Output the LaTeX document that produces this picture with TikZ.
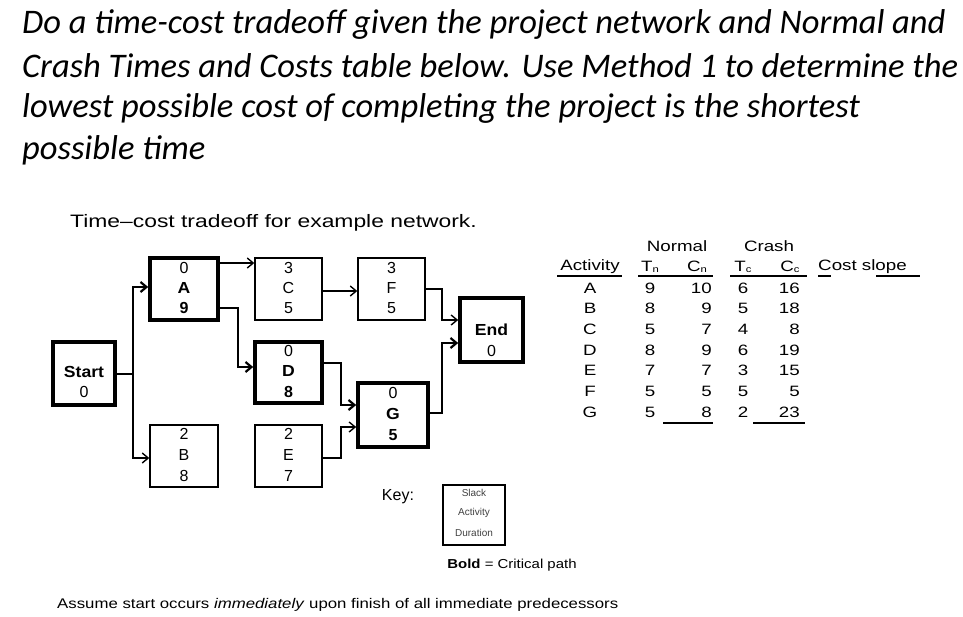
\documentclass[tikz,border=0pt]{standalone}
\usepackage{fontspec}
\setmainfont{Liberation Sans}
\newfontfamily\titlefont{Carlito}
\usetikzlibrary{arrows.meta}
\newcommand\hs[2]{\scalebox{#1}[1]{#2}}
\begin{document}
\begin{tikzpicture}[x=1pt,y=-1pt,
 box/.style={draw,line width=1.4pt,inner sep=0pt},
 cbox/.style={draw,line width=3.6pt,inner sep=0pt},
 con/.style={line width=1.4pt,-{Straight Barb[length=6pt,width=10pt,line width=1.4pt]}},
 ccon/.style={line width=2.8pt,-{Straight Barb[length=6pt,width=10pt,line width=2.2pt]}},
 t/.style={font=\fontsize{16}{16}\selectfont,inner sep=0pt},
 tb/.style={font=\fontsize{16}{16}\selectfont\bfseries,inner sep=0pt},
 tab/.style={font=\fontsize{15}{15}\selectfont,inner sep=0pt},
 ttl/.style={anchor=west,font=\fontsize{34.5}{34.5}\selectfont\titlefont\itshape,inner sep=0pt}]
\useasboundingbox (0,0) rectangle (963,616);
% title
\node[ttl] (t1) at (22,24) {Do a time-cost tradeoff given the project network and Normal and};
\node[ttl] (t2) at (22,66) {Crash Times and Costs table below. Use Method 1 to determine the};
\node[ttl] (t3) at (22,108) {lowest possible cost of completing the project is the shortest};
\node[ttl] (t4) at (22,150) {possible time};
\node[anchor=west,font=\fontsize{18}{18}\selectfont,inner sep=0pt] (cap) at (70,223) {\hs{1.27}{Time–cost tradeoff for example network.}};
% boxes
\node[cbox,minimum width=62pt,minimum height=63pt] (S) at (84,373.5) {};
\node[tb] (S1) at (84,372) {\hs{1.1}{Start}}; \node[t] (S2) at (84,392) {0};
\node[cbox,minimum width=68pt,minimum height=62pt] (A) at (184,289) {};
\node[t] at (184,268) {0}; \node[tb] at (184,288) {\hs{1.1}{A}}; \node[tb] at (184,308) {9};
\node[box,minimum width=67pt,minimum height=62pt] (C) at (288.5,289) {};
\node[t] at (288.5,268) {3}; \node[t] at (288.5,288) {C}; \node[t] at (288.5,308) {5};
\node[box,minimum width=67pt,minimum height=62pt] (F) at (391.5,289) {};
\node[t] at (391.5,268) {3}; \node[t] at (391.5,288) {F}; \node[t] at (391.5,308) {5};
\node[cbox,minimum width=63pt,minimum height=64pt] (End) at (491.5,330) {};
\node[tb] at (491.5,330) {\hs{1.1}{End}}; \node[t] at (491.5,351) {0};
\node[cbox,minimum width=67pt,minimum height=61pt] (D) at (288.5,372.5) {};
\node[t] at (288.5,351) {0}; \node[tb] at (288.5,371) {\hs{1.1}{D}}; \node[tb] at (288.5,392) {8};
\node[cbox,minimum width=70pt,minimum height=64pt] (G) at (393,415) {};
\node[t] at (393,393) {0}; \node[tb] at (393,414) {\hs{1.1}{G}}; \node[tb] at (393,435) {5};
\node[box,minimum width=68pt,minimum height=62pt] (B) at (184,456) {};
\node[t] at (184,434) {2}; \node[t] at (184,455) {B}; \node[t] at (184,476) {8};
\node[box,minimum width=67pt,minimum height=62pt] (E) at (288.5,456) {};
\node[t] at (288.5,434) {2}; \node[t] at (288.5,455) {E}; \node[t] at (288.5,476) {7};
% connectors
\coordinate (j1) at (133,374);
\draw[line width=2.8pt] (S.east|-j1) -- (j1);
\draw[ccon] (j1) -- (133,287) -- (A.west|-0,287);
\draw[con] (j1) -- (133,458) -- (B.west|-0,458);
\draw[con] (A.east|-0,263) -- (C.west|-0,263);
\draw[ccon] (A.east|-0,308) -- (238,308) -- (238,367) -- (D.west|-0,367);
\draw[con] (C.east|-0,291) -- (F.west|-0,291);
\draw[con] (F.east|-0,289) -- (442,289) -- (442,320) -- (End.west|-0,320);
\draw[ccon] (G.east|-0,413) -- (442,413) -- (442,343) -- (End.west|-0,343);
\draw[ccon] (D.east|-0,363) -- (341,363) -- (341,405) -- (G.west|-0,405);
\draw[con] (E.east|-0,458) -- (341,458) -- (341,427) -- (G.west|-0,427);
% key
\node[font=\fontsize{16}{16}\selectfont,inner sep=0pt] (key) at (398,497) {Key:};
\node[draw,line width=1.4pt,minimum width=62pt,minimum height=60pt] (kb) at (474,515) {};
\node[font=\fontsize{10}{10}\selectfont,inner sep=0pt,text=black!75] at (474,493) {Slack};
\node[font=\fontsize{10}{10}\selectfont,inner sep=0pt,text=black!75] at (474,513) {Activity};
\node[font=\fontsize{10}{10}\selectfont,inner sep=0pt,text=black!75] at (474,533) {Duration};
\node[font=\fontsize{13}{13}\selectfont,inner sep=0pt] (crit) at (512,565) {\hs{1.15}{\textbf{Bold} = Critical path}};
\node[anchor=west,font=\fontsize{14}{14}\selectfont,inner sep=0pt] (assume) at (57,605) {\hs{1.2}{Assume start occurs \textit{immediately} upon finish of all immediate predecessors}};
% table
\node[tab] at (677,246) {\hs{1.25}{Normal}};
\node[tab] at (769,246) {\hs{1.25}{Crash}};
\node[tab] at (590,267) {\hs{1.25}{Activity}};
\node[tab] at (650,267) {\hs{1.25}{T\raisebox{-1pt}{\fontsize{9}{9}\selectfont n}}};
\node[tab] at (697,267) {\hs{1.25}{C\raisebox{-1pt}{\fontsize{9}{9}\selectfont n}}};
\node[tab] at (743,267) {\hs{1.25}{T\raisebox{-1pt}{\fontsize{9}{9}\selectfont c}}};
\node[tab] at (790,267) {\hs{1.25}{C\raisebox{-1pt}{\fontsize{9}{9}\selectfont c}}};
\node[tab,anchor=west] at (818,267) {\hs{1.25}{Cost slope}};
\draw[line width=1.6pt] (557,276) -- (622,276);
\draw[line width=1.6pt] (638,276) -- (713,276);
\draw[line width=1.6pt] (730,276) -- (807,276);
\draw[line width=1.6pt] (818,276) -- (831,276);
\draw[line width=1.6pt] (876,276) -- (920,276);
\foreach \a/\tn/\cn/\tc/\cc [count=\i from 0] in {A/9/10/6/16,B/8/9/5/18,C/5/7/4/8,D/8/9/6/19,E/7/7/3/15,F/5/5/5/5,G/5/8/2/23}{
 \node[tab] at (590,{288+20.7*\i}) {\hs{1.25}{\a}};
 \node[tab] at (650,{288+20.7*\i}) {\hs{1.25}{\tn}};
 \node[tab,anchor=east] at (712,{288+20.7*\i}) {\hs{1.25}{\cn}};
 \node[tab] at (743,{288+20.7*\i}) {\hs{1.25}{\tc}};
 \node[tab,anchor=east] at (800,{288+20.7*\i}) {\hs{1.25}{\cc}};
}
\draw[line width=1.6pt] (663,423) -- (713,423);
\draw[line width=1.6pt] (753,423) -- (805,423);
\end{tikzpicture}
\end{document}
